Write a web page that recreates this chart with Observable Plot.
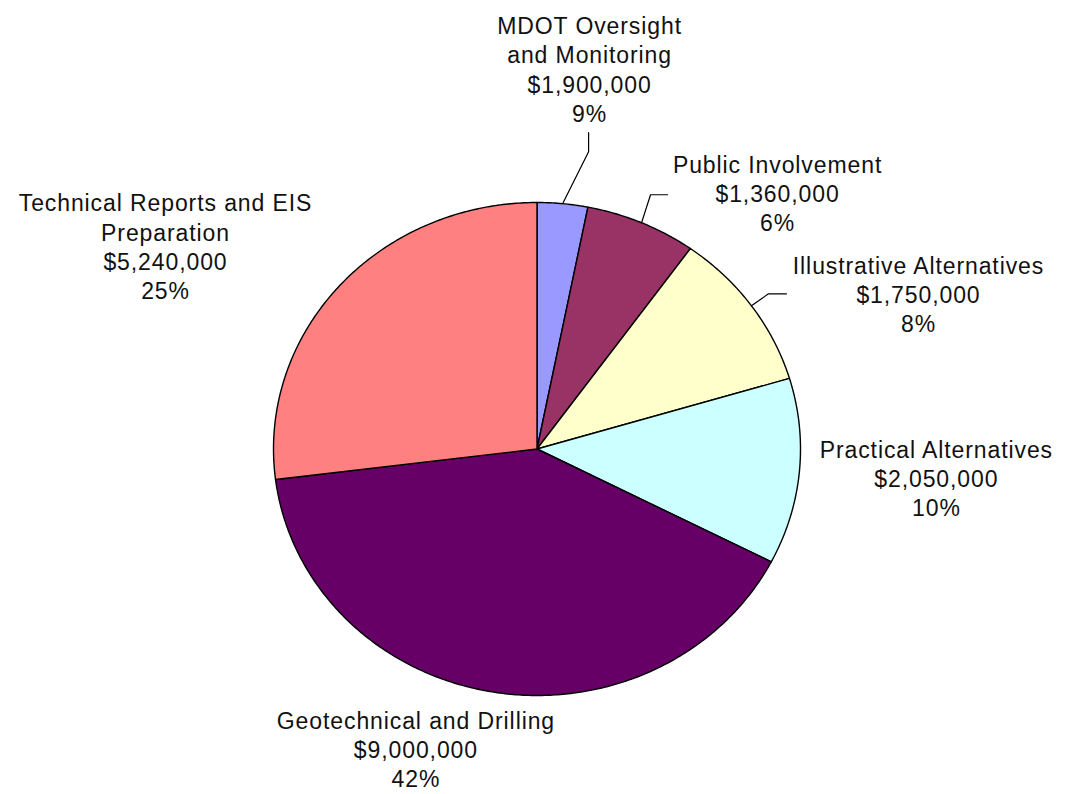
<!DOCTYPE html>
<html>
<head>
<meta charset="utf-8">
<script src="https://cdn.jsdelivr.net/npm/d3@7"></script>
<script src="https://cdn.jsdelivr.net/npm/@observablehq/plot@0.6"></script>
<style>
  html, body { margin: 0; padding: 0; background: #fff; }
  #chart svg text { letter-spacing: 0.9px; }
</style>
</head>
<body>
<div id="chart"></div>
<script>
// ---- Data ----
const categories = [
  "MDOT Oversight and Monitoring",
  "Public Involvement",
  "Illustrative Alternatives",
  "Practical Alternatives",
  "Geotechnical and Drilling",
  "Technical Reports and EIS Preparation"
];
const labelLines = [
  ["MDOT Oversight", "and Monitoring"],
  ["Public Involvement"],
  ["Illustrative Alternatives"],
  ["Practical Alternatives"],
  ["Geotechnical and Drilling"],
  ["Technical Reports and EIS", "Preparation"]
];
const amounts = [1900000, 1360000, 1750000, 2050000, 9000000, 5240000];
// slice sizes as they are drawn in the reference pie (percent of the circle)
const drawnShare = [3.1, 6.8, 10.5, 12.2, 40.5, 27.0];
const colors = ["#9999FF", "#993366", "#FFFFCC", "#CCFFFF", "#660066", "#FF8080"];

// ---- Layout (styles / placement, not data) ----
const W = 1065, H = 794;
const xRange = [273, 800], yRange = [695, 202];
// label block offset (px) from the slice's mid-angle rim point
const labelOffset = [[27, -135], [136, -30], [167, -12], [137, 6], [-75, 57], [-174, -40]];
// leader lines: elbow and end offsets (px) from the rim point; null = no leader
const leaderOffset = [
  [[26, -52], [26, -71]],
  [[9, -28], [26, -28]],
  [[17, -12], [35, -12]],
  null, null, null
];

const total = d3.sum(amounts);
const fmtMoney = d3.format("$,");
const pie = d3.pie().sort(null).value(d => d.share);
const rows = categories.map((c, i) => ({
  name: c, amount: amounts[i], share: drawnShare[i], color: colors[i], i
}));
const arcs = pie(rows);

// slice outlines in the unit data space (x = sin a, y = cos a; angle clockwise from top)
const slicePts = [];
for (const a of arcs) {
  const n = Math.max(4, Math.ceil((a.endAngle - a.startAngle) / 0.01));
  slicePts.push({name: a.data.name, color: a.data.color, x: 0, y: 0});
  for (let k = 0; k <= n; k++) {
    const t = a.startAngle + (a.endAngle - a.startAngle) * k / n;
    slicePts.push({name: a.data.name, color: a.data.color, x: Math.sin(t), y: Math.cos(t)});
  }
  slicePts.push({name: a.data.name, color: a.data.color, x: 0, y: 0});
}

const sx = Plot.scale({x: {domain: [-1, 1], range: xRange}});
const sy = Plot.scale({y: {domain: [-1, 1], range: yRange}});
const shift = (x, y, ox, oy) => [sx.invert(sx.apply(x) + ox), sy.invert(sy.apply(y) + oy)];

const labels = arcs.map((a, i) => {
  const m = (a.startAngle + a.endAngle) / 2;
  const pct = Math.round(a.data.amount / total * 100);
  const [lx, ly] = shift(Math.sin(m), Math.cos(m), labelOffset[i][0], labelOffset[i][1]);
  return {
    x: lx, y: ly,
    text: [...labelLines[i], fmtMoney(a.data.amount), pct + "%"].join("\n")
  };
});

const leaders = [];
arcs.forEach((a, i) => {
  if (!leaderOffset[i]) return;
  const m = (a.startAngle + a.endAngle) / 2;
  const x0 = Math.sin(m), y0 = Math.cos(m);
  leaders.push({k: i, x: x0, y: y0});
  for (const [ox, oy] of leaderOffset[i]) {
    const [lx, ly] = shift(x0, y0, ox, oy);
    leaders.push({k: i, x: lx, y: ly});
  }
});

const chart = Plot.plot({
  width: W, height: H, margin: 0,
  x: {domain: [-1, 1], range: xRange, axis: null},
  y: {domain: [-1, 1], range: yRange, axis: null},
  style: {fontFamily: "'Liberation Sans', Arial, sans-serif", background: "#fff"},
  marks: [
    Plot.line(slicePts, {x: "x", y: "y", z: "name", fill: "color", stroke: "#000",
      strokeWidth: 1.4, strokeLinejoin: "round", curve: "linear"}),
    Plot.line(leaders, {x: "x", y: "y", z: "k", stroke: "#000", strokeWidth: 1.2}),
    Plot.text(labels, {x: "x", y: "y", text: "text",
      fontSize: 23, lineHeight: 1.27, fill: "#111", textAnchor: "middle", lineAnchor: "middle"})
  ]
});
document.getElementById("chart").appendChild(chart);
</script>
</body>
</html>
